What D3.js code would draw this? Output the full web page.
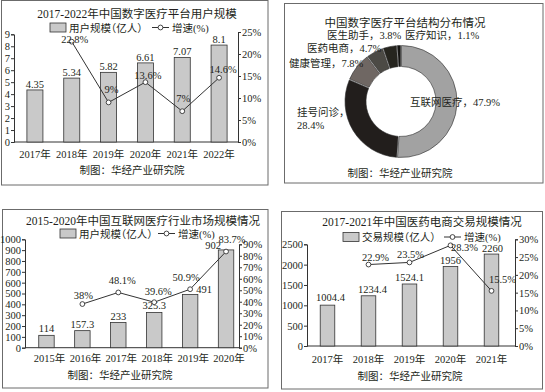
<!DOCTYPE html>
<html>
<head>
<meta charset="utf-8">
<script src="https://cdn.jsdelivr.net/npm/d3@7"></script>
<style>
  body { margin: 0; background: #fff; }
  text { font-family: "Liberation Serif", "Noto Sans CJK SC", serif; fill: #231f20; }
  .halt { font-feature-settings: "halt"; }
</style>
</head>
<body>
<div id="chart"></div>
<script>
// ---- data ----
const years1 = ["2017年", "2018年", "2019年", "2020年", "2021年", "2022年"];
const users1 = [4.35, 5.34, 5.82, 6.61, 7.07, 8.1];
const growth1 = [null, 22.8, 9, 13.6, 7, 14.6];

const pieNames = ["互联网医疗", "挂号问诊", "健康管理", "医药电商", "医生助手", "医疗知识"];
const pieShares = [47.9, 28.4, 7.8, 4.7, 3.8, 1.1];

const years3 = ["2015年", "2016年", "2017年", "2018年", "2019年", "2020年"];
const market3 = [114, 157.3, 233, 325.3, 491, 902];
const growth3 = [null, 38, 48.1, 39.6, 50.9, 83.7];

const years4 = ["2017年", "2018年", "2019年", "2020年", "2021年"];
const trade4 = [1004.4, 1234.4, 1524.1, 1956, 2260];
const growth4 = [null, 22.9, 23.5, 28.3, 15.5];

const footer = "制图：华经产业研究院";

const svg = d3.select("#chart").append("svg")
    .attr("width", 545)
    .attr("height", 392);

function panelBox(b) {
    svg.append("rect")
        .attr("x", b[0]).attr("y", b[1])
        .attr("width", b[2]).attr("height", b[3])
        .attr("fill", "none")
        .attr("stroke", "#6b6b6b")
        .attr("stroke-width", 1);
}

// combo chart: bars on the left axis, growth line on the right axis
function drawCombo(cfg) {
    panelBox(cfg.box);
    const g = svg.append("g");

    g.append("text")
        .attr("x", cfg.titleX).attr("y", cfg.titleY)
        .attr("text-anchor", "middle")
        .attr("font-size", 11.5)
        .attr("fill", "#111")
        .text(cfg.title);

    // legend
    const lg = g.append("g").attr("transform", `translate(0, ${cfg.legY})`);
    lg.append("rect")
        .attr("x", cfg.legX).attr("y", -4.5)
        .attr("width", 16).attr("height", 9)
        .attr("fill", "#c9c9c9").attr("stroke", "#333").attr("stroke-width", 0.8);
    lg.append("text")
        .attr("class", "halt")
        .attr("x", cfg.legX + 19).attr("y", 4)
        .attr("font-size", 10.5)
        .text(cfg.barName);
    lg.append("line")
        .attr("x1", cfg.legLineX).attr("x2", cfg.legLineX + 17)
        .attr("stroke", "#333").attr("stroke-width", 1);
    lg.append("circle")
        .attr("cx", cfg.legLineX + 8.5).attr("r", 2.4)
        .attr("fill", "#fff").attr("stroke", "#333").attr("stroke-width", 0.9);
    lg.append("text")
        .attr("x", cfg.legLineX + 20).attr("y", 4)
        .attr("font-size", 10.5)
        .text("增速(%)");

    const x = d3.scaleBand()
        .domain(cfg.cats)
        .range(cfg.xRange)
        .paddingInner(cfg.pad)
        .paddingOuter(cfg.pad / 2);
    const yL = d3.scaleLinear().domain([0, cfg.yMax]).range(cfg.yRange);
    const yR = d3.scaleLinear().domain([0, cfg.rMax]).range(cfg.rRange);

    const axL = g.append("g")
        .attr("transform", `translate(${cfg.axisL},0)`)
        .call(d3.axisLeft(yL)
            .tickValues(d3.range(0, cfg.yMax + 1, cfg.yStep))
            .tickFormat(d3.format("d"))
            .tickSize(3).tickPadding(1));
    const axR = g.append("g")
        .attr("transform", `translate(${cfg.axisR},0)`)
        .call(d3.axisRight(yR)
            .tickValues(d3.range(0, cfg.rMax + 1, cfg.rStep))
            .tickFormat(d => d + "%")
            .tickSize(3).tickPadding(1));
    [axL, axR].forEach(a => {
        a.selectAll("path, line").attr("stroke", "#333");
        a.selectAll("text").attr("font-size", 10.5).attr("fill", "#231f20")
            .attr("font-family", "Liberation Serif");
    });

    // baseline
    g.append("line")
        .attr("x1", cfg.axisL).attr("x2", cfg.axisR)
        .attr("y1", yL(0)).attr("y2", yL(0))
        .attr("stroke", "#333");

    // bars
    g.selectAll(".bar")
        .data(cfg.bars)
        .join("rect")
        .attr("class", "bar")
        .attr("x", (d, i) => x(cfg.cats[i]))
        .attr("y", d => yL(d))
        .attr("width", x.bandwidth())
        .attr("height", d => yL(0) - yL(d))
        .attr("fill", "#c9c9c9")
        .attr("stroke", "#333")
        .attr("stroke-width", 0.8);

    g.selectAll(".vlab")
        .data(cfg.bars)
        .join("text")
        .attr("class", "vlab")
        .attr("x", (d, i) => x(cfg.cats[i]) + x.bandwidth() / 2 + cfg.valOff[i][0])
        .attr("y", (d, i) => yL(d) + cfg.valOff[i][1])
        .attr("text-anchor", "middle")
        .attr("font-size", 10.5)
        .text(d => d);

    // x labels
    g.selectAll(".xlab")
        .data(cfg.cats)
        .join("text")
        .attr("class", "xlab")
        .attr("x", d => x(d) + x.bandwidth() / 2 + cfg.xLabDx)
        .attr("y", cfg.xLabY)
        .attr("text-anchor", "middle")
        .attr("font-size", 10.5)
        .text(d => d);

    // growth line
    const pts = cfg.growth
        .map((v, i) => ({ v, i }))
        .filter(d => d.v !== null);
    const line = d3.line()
        .x(d => x(cfg.cats[d.i]) + x.bandwidth() / 2)
        .y(d => yR(d.v));
    g.append("path")
        .datum(pts)
        .attr("d", line)
        .attr("fill", "none")
        .attr("stroke", "#333")
        .attr("stroke-width", 1);
    g.selectAll(".pt")
        .data(pts)
        .join("circle")
        .attr("class", "pt")
        .attr("cx", d => x(cfg.cats[d.i]) + x.bandwidth() / 2)
        .attr("cy", d => yR(d.v))
        .attr("r", 2.4)
        .attr("fill", "#fff")
        .attr("stroke", "#333")
        .attr("stroke-width", 0.9);
    g.selectAll(".glab")
        .data(pts)
        .join("text")
        .attr("class", "glab")
        .attr("x", d => x(cfg.cats[d.i]) + x.bandwidth() / 2 + cfg.gOff[d.i][0])
        .attr("y", d => yR(d.v) + cfg.gOff[d.i][1])
        .attr("text-anchor", "middle")
        .attr("font-size", 10.5)
        .text(d => d.v + "%");

    g.append("text")
        .attr("x", cfg.footX).attr("y", cfg.footY)
        .attr("text-anchor", "middle")
        .attr("font-size", 10.5)
        .attr("fill", "#333")
        .text(footer);
}

// top-left
drawCombo({
    box: [1.5, 0.5, 266.5, 184.5],
    title: "2017-2022年中国数字医疗平台用户规模",
    titleX: 137, titleY: 18,
    legY: 27.5, legX: 50, legLineX: 152,
    barName: "用户规模（亿人）",
    cats: years1, bars: users1, growth: growth1,
    xRange: [16.5, 237.5], pad: 0.565,
    axisL: 14, axisR: 238,
    yMax: 9, yStep: 1, yRange: [142, 34.3],
    rMax: 25, rStep: 5, rRange: [142, 32],
    valOff: [[0, -2], [0, -2], [0, -2], [0, -2], [0, -2], [0, -2]],
    gOff: [[0, 0], [3, 1], [3, -9], [2.5, -3], [1, -9.5], [4, -5]],
    xLabY: 158, xLabDx: 0,
    footX: 132, footY: 174
});

// bottom-left
drawCombo({
    box: [2.5, 209.5, 265.5, 178.5],
    title: "2015-2020年中国互联网医疗行业市场规模情况",
    titleX: 143, titleY: 225,
    legY: 233.5, legX: 60, legLineX: 158,
    barName: "用户规模（亿人）",
    cats: years3, bars: market3, growth: growth3,
    xRange: [28.5, 244], pad: 0.57,
    axisL: 25, axisR: 239,
    yMax: 1000, yStep: 100, yRange: [347.7, 239.3],
    rMax: 90, rStep: 10, rRange: [347.7, 244.3],
    valOff: [[0, -3], [0, -3], [0, -2], [0, -3], [14, -1], [-13, -1]],
    gOff: [[0, 0], [1, -5.5], [4, -8], [4, -7.5], [-4, -8.5], [6, -9]],
    xLabY: 361.5, xLabDx: 3,
    footX: 120, footY: 379
});

// bottom-right
drawCombo({
    box: [281.5, 211.5, 261, 177.5],
    title: "2017-2021年中国医药电商交易规模情况",
    titleX: 422, titleY: 226,
    legY: 237, legX: 343, legLineX: 444,
    barName: "交易规模（亿人）",
    cats: years4, bars: trade4, growth: growth4,
    xRange: [307, 512], pad: 0.645,
    axisL: 307, axisR: 515,
    yMax: 2500, yStep: 500, yRange: [346, 244.3],
    rMax: 30, rStep: 5, rRange: [346, 239.3],
    valOff: [[3, -4], [4, -3], [0, -3], [0, -2], [1, -2]],
    gOff: [[0, 0], [7, -4], [1, -4], [14, 6], [11, -8]],
    xLabY: 362.5, xLabDx: 0,
    footX: 410, footY: 380
});

// top-right donut
panelBox([284.5, 3.5, 258.5, 179.5]);
const pg = svg.append("g");
pg.append("text")
    .attr("x", 405).attr("y", 26.5)
    .attr("text-anchor", "middle")
    .attr("font-size", 11.5)
    .attr("fill", "#111")
    .text("中国数字医疗平台结构分布情况");

const pieColors = ["#a2a2a2", "#221e1c", "#6f6763", "#4c4a45", "#26251f", "#151412"];
const pie = d3.pie().sort(null).value(d => d)(pieShares);
const arc = d3.arc().innerRadius(35).outerRadius(56).padAngle(0.014);
pg.append("g")
    .attr("transform", "translate(401,101.5)")
    .selectAll("path")
    .data(pie)
    .join("path")
    .attr("d", arc)
    .attr("fill", (d, i) => pieColors[i])
    .attr("stroke", "#2a2a2a")
    .attr("stroke-width", 0.6);

// label anchors (layout only)
const pieLabelPos = [[410, 105.5], [297, 115.5], [289, 66.5], [307, 51.5], [327, 38.5], [405, 38.5]];
pieNames.forEach((n, i) => {
    const t = pg.append("text")
        .attr("x", pieLabelPos[i][0]).attr("y", pieLabelPos[i][1])
        .attr("font-size", 10.5);
    if (i === 1) {
        t.text(n + "，");
        pg.append("text")
            .attr("x", pieLabelPos[i][0]).attr("y", pieLabelPos[i][1] + 13)
            .attr("font-size", 10.5)
            .text(pieShares[i] + "%");
    } else {
        t.text(n + "，" + pieShares[i] + "%");
    }
});
pg.append("text")
    .attr("x", 400).attr("y", 176.5)
    .attr("text-anchor", "middle")
    .attr("font-size", 10.5)
    .attr("fill", "#333")
    .text(footer);
</script>
</body>
</html>
